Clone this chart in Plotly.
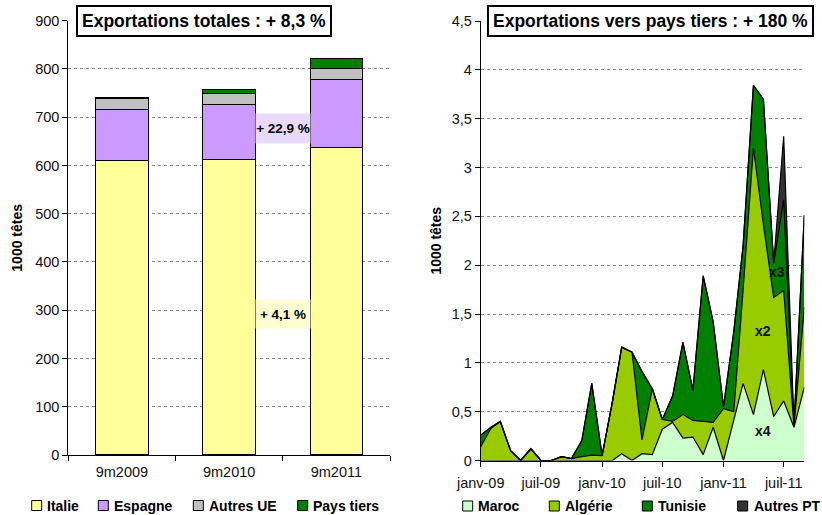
import plotly.graph_objects as go

W, H = 822, 515
FONT = "Liberation Sans, Arial, sans-serif"

# Graphique de gauche : exportations totales (1000 têtes)
periodes = ["9m2009", "9m2010", "9m2011"]
italie = [611, 613, 638]
espagne = [105, 114, 140.5]
autres_ue = [23, 22.5, 21.5]
pays_tiers = [2, 8, 22.4]

# Graphique de droite : exportations mensuelles vers pays tiers (1000 têtes)
mois = ["2009-01", "2009-02", "2009-03", "2009-04", "2009-05", "2009-06",
        "2009-07", "2009-08", "2009-09", "2009-10", "2009-11", "2009-12",
        "2010-01", "2010-02", "2010-03", "2010-04", "2010-05", "2010-06",
        "2010-07", "2010-08", "2010-09", "2010-10", "2010-11", "2010-12",
        "2011-01", "2011-02", "2011-03", "2011-04", "2011-05", "2011-06",
        "2011-07", "2011-08", "2011-09"]
maroc = [0, 0, 0, 0, 0, 0, 0, 0, 0, 0, 0, 0, 0, 0, 0.07, 0, 0.07, 0.06,
         0.32, 0.39, 0.23, 0.24, 0.06, 0.34, 0, 0.41, 0.79, 0.47, 0.93, 0.45,
         0.61, 0.34, 0.75]
algerie = [0.14, 0.33, 0.40, 0.10, 0, 0.12, 0, 0, 0.04, 0.02, 0.04, 0.055,
           0.05, 0.60, 1.09, 1.11, 0.14, 0.675, 0.10, 0.01, 0.24, 0.17, 0.34,
           0.05, 0.53, 0.09, 0.96, 2.73, 1.49, 1.22, 1.13, 0.01, 0.82]
tunisie = [0.12, 0.01, 0, 0, 0, 0, 0, 0, 0, 0, 0.165, 0.735, 0, 0, 0, 0,
           0.70, 0, 0, 0.26, 0.74, 0.31, 1.49, 1.03, 0.02, 0.82, 0.45, 0.64,
           1.28, 0.35, 0.93, 0.01, 0.94]
autres_pt = [0, 0, 0, 0, 0, 0, 0, 0, 0, 0, 0, 0, 0, 0, 0, 0, 0, 0, 0, 0,
             0, 0, 0, 0, 0, 0, 0, 0, 0, 0, 0.65, 0, 0]

ticks_dates = ["2009-01-01", "2009-07-01", "2010-01-01", "2010-07-01",
               "2011-01-01", "2011-07-01"]
ticks_texte = ["janv-09", "juil-09", "janv-10", "juil-10", "janv-11", "juil-11"]

couleurs_g = {"Italie": "#FFFF99", "Espagne": "#CC99FF",
              "Autres UE": "#C0C0C0", "Pays tiers": "#008000"}
couleurs_d = {"Maroc": "#CCFFCC", "Algérie": "#99CC00",
              "Tunisie": "#008000", "Autres PT": "#333333"}


def px(x):
    return x / W


def py(y):
    return 1 - y / H


fig = go.Figure()

for nom, vals in [("Italie", italie), ("Espagne", espagne),
                  ("Autres UE", autres_ue), ("Pays tiers", pays_tiers)]:
    fig.add_trace(go.Bar(x=periodes, y=vals, name=nom, width=0.49,
                         marker=dict(color=couleurs_g[nom], line=dict(color="black", width=1)),
                         showlegend=False, xaxis="x", yaxis="y"))

for nom, vals in [("Maroc", maroc), ("Algérie", algerie),
                  ("Tunisie", tunisie), ("Autres PT", autres_pt)]:
    fig.add_trace(go.Scatter(x=mois, y=vals, name=nom, mode="lines",
                             stackgroup="pt", fillcolor=couleurs_d[nom],
                             line=dict(color="black", width=1.2),
                             showlegend=False, xaxis="x2", yaxis="y2"))

grille = dict(showgrid=True, gridcolor="#8c8c8c", griddash="dot", gridwidth=1)
axe = dict(showline=True, linecolor="black", linewidth=1, ticks="outside",
           ticklen=5, tickcolor="black", automargin=False,
           tickfont=dict(size=14.5, color="#111"))

fig.update_layout(
    width=W, height=H, margin=dict(l=0, r=0, t=0, b=0),
    paper_bgcolor="white", plot_bgcolor="white",
    font=dict(family=FONT, color="black"),
    separators=", ",
    barmode="stack",
    xaxis=dict(domain=[px(68.3), px(390)], type="category", range=[-0.5, 2.5],
               tickson="boundaries", showgrid=False, ticklabelstandoff=4, **axe),
    yaxis=dict(domain=[py(455), py(20.7)], range=[0, 900], dtick=100,
               zeroline=False, **grille, **axe,
               title=dict(text="<b>1000 têtes</b>", font=dict(size=14), standoff=9)),
    xaxis2=dict(domain=[px(480.7), px(804.3)], type="date", anchor="y2",
                range=["2009-01-01", "2011-09-01"], tickvals=ticks_dates,
                ticktext=ticks_texte, showgrid=False, ticklabelstandoff=4, **axe),
    yaxis2=dict(domain=[py(460.5), py(21)], range=[0, 4.5], dtick=0.5,
                anchor="x2", zeroline=False, **grille, **axe,
                title=dict(text="<b>1000 têtes</b>", font=dict(size=14), standoff=6)),
)

# Cadres de titre
titres = [("<b>Exportations totales : + 8,3 %</b>", 204),
          ("<b>Exportations vers pays tiers : + 180 %</b>", 650.7)]
for texte, cx in titres:
    fig.add_annotation(text=texte, xref="paper", yref="paper", x=px(cx), y=py(20.5),
                       xanchor="center", yanchor="middle", showarrow=False,
                       font=dict(size=17.5, color="black"), bgcolor="white",
                       bordercolor="black", borderwidth=2, borderpad=4)

# Évolutions
fig.add_annotation(text="<b>+ 22,9 %</b>", xref="x", yref="y", x=1.5, y=677,
                   showarrow=False, font=dict(size=13.5), bgcolor="#E9DAFB",
                   width=54, height=29, borderpad=0)
fig.add_annotation(text="<b>+ 4,1 %</b>", xref="x", yref="y", x=1.5, y=292,
                   showarrow=False, font=dict(size=13.5), bgcolor="#FDFCD2",
                   width=54, height=28, borderpad=0)
for texte, xd, yv in [("x3", "2011-06-11", 1.93), ("x2", "2011-04-30", 1.33),
                      ("x4", "2011-04-30", 0.30)]:
    fig.add_annotation(text="<b>%s</b>" % texte, xref="x2", yref="y2", x=xd, y=yv,
                       showarrow=False, font=dict(size=14, color="#111"))

# Légendes
legendes = [("Italie", couleurs_g["Italie"], 31.7, 45, 505.5),
            ("Espagne", couleurs_g["Espagne"], 98.3, 111.7, 505.5),
            ("Autres UE", couleurs_g["Autres UE"], 193.3, 206.7, 505.5),
            ("Pays tiers", couleurs_g["Pays tiers"], 297.7, 311, 505.5),
            ("Maroc", couleurs_d["Maroc"], 462.7, 476, 506),
            ("Algérie", couleurs_d["Algérie"], 549.3, 562.7, 506),
            ("Tunisie", couleurs_d["Tunisie"], 642.3, 656, 506),
            ("Autres PT", couleurs_d["Autres PT"], 737.7, 751.7, 506)]
for nom, coul, xs, xt, yc in legendes:
    fig.add_shape(type="rect", xref="paper", yref="paper",
                  x0=px(xs), x1=px(xs + 10), y0=py(yc - 5), y1=py(yc + 5),
                  fillcolor=coul, line=dict(color="black", width=1))
    fig.add_annotation(text="<b>%s</b>" % nom, xref="paper", yref="paper",
                       x=px(xt), y=py(yc), xanchor="left", yanchor="middle",
                       showarrow=False, font=dict(size=14, color="black"))

# la page par défaut a une marge de 8 px autour du graphique
fig.write_html("out.html", config={"displayModeBar": False},
               post_script="document.body.style.margin='0';")
